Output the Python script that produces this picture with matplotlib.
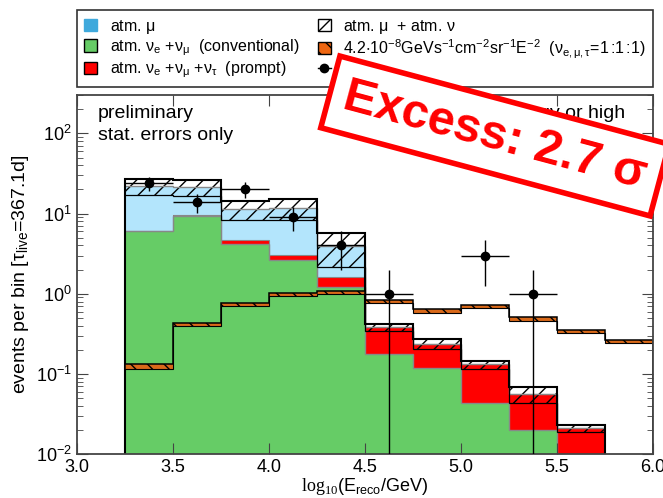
import matplotlib

matplotlib.use("Agg")

import matplotlib.pyplot as plt
import numpy as np
from matplotlib.lines import Line2D
from matplotlib.patches import Patch

plt.rcParams["font.family"] = ["Liberation Sans", "DejaVu Sans"]
plt.rcParams["mathtext.fontset"] = "custom"
plt.rcParams["mathtext.rm"] = "Liberation Sans"
plt.rcParams["mathtext.it"] = "Liberation Sans:italic"
plt.rcParams["mathtext.sf"] = "Liberation Sans"
plt.rcParams["mathtext.cal"] = "Liberation Serif"
plt.rcParams["mathtext.default"] = "regular"

# bin edges in log10(E_reco/GeV)
bg_edges = [3.25, 3.5, 3.75, 4.0, 4.25, 4.5, 4.75, 5.0, 5.25, 5.5, 5.75]
sig_edges = [3.25, 3.5, 3.75, 4.0, 4.25, 4.5, 4.75, 5.0, 5.25, 5.5, 5.75, 6.0]

# stacked background components (events per bin)
conventional = [6.0, 9.2, 4.15, 2.65, 1.2, 0.176, 0.12, 0.044, 0.02, 0.0]
prompt = [0.05, 0.3, 0.5, 0.42, 0.42, 0.205, 0.117, 0.088, 0.036, 0.021]
atm_muon = [15.9, 12.0, 6.8, 8.8, 2.36, 0.0, 0.0, 0.0, 0.0, 0.0]
bg_err = [4.7, 4.8, 3.05, 3.5, 1.8, 0.037, 0.035, 0.015, 0.013, 0.002]

# astrophysical E^-2 flux expectation and its band half-width
signal = [0.124, 0.415, 0.73, 0.97, 1.03, 0.80, 0.613, 0.695, 0.487, 0.338, 0.253]
signal_err = [0.009, 0.02, 0.03, 0.045, 0.045, 0.04, 0.03, 0.035, 0.025, 0.017, 0.013]

# observed events
data_x = [3.375, 3.625, 3.875, 4.125, 4.375, 4.625, 5.125, 5.375]
data_n = [24, 14, 20, 9, 4, 1, 3, 1]

FLOOR = 1e-5

conv = np.maximum(np.array(conventional), FLOOR)
top_prompt = conv + np.array(prompt)
total = top_prompt + np.array(atm_muon)
err = np.array(bg_err)
sig = np.array(signal)
sig_e = np.array(signal_err)

fig = plt.figure(figsize=(6.63, 4.98), dpi=100)
ax = fig.add_axes([0.116, 0.088, 0.869, 0.721])
ax.set_yscale("log")

ax.stairs(conv, bg_edges, baseline=FLOOR, fill=True, facecolor="#66cc66", edgecolor="none")
ax.stairs(top_prompt, bg_edges, baseline=conv, fill=True, facecolor="#ff0000", edgecolor="none")
ax.stairs(total, bg_edges, baseline=top_prompt, fill=True, facecolor="#b3e5fc", edgecolor="none")
ax.stairs(conv, bg_edges, baseline=None, color="#888888", lw=1)
ax.stairs(top_prompt, bg_edges, baseline=None, color="#888888", lw=0.8)

# background uncertainty band (hatched)
ax.stairs(total + err, bg_edges, baseline=total - err, fill=True,
          facecolor="none", edgecolor="black", hatch="//", linewidth=0)
ax.stairs(total, bg_edges, baseline=None, color="#888888", lw=1)
ax.stairs(total - err, bg_edges, baseline=None, color="black", lw=0.9)
ax.stairs(total + err, bg_edges, baseline=FLOOR, color="black", lw=1.5)

# astrophysical signal
ax.stairs(sig + sig_e, sig_edges, baseline=sig - sig_e, fill=True,
          facecolor="#d9691a", edgecolor="black", hatch="\\\\", linewidth=0)
ax.stairs(sig - sig_e, sig_edges, baseline=None, color="black", lw=0.8)
ax.stairs(sig + sig_e, sig_edges, baseline=FLOOR, color="black", lw=1.1)

# data
n = np.array(data_n, dtype=float)
yerr = np.sqrt(n)
ax.errorbar(data_x, n, xerr=0.125, yerr=[np.minimum(yerr, n - 1e-6), yerr],
            fmt="o", color="black", ms=6, elinewidth=1, capsize=0, zorder=5)

ax.set_xlim(3.0, 6.0)
ax.set_ylim(1e-2, 3e2)
ax.set_xticks([3.0, 3.5, 4.0, 4.5, 5.0, 5.5, 6.0])
ax.tick_params(which="both", direction="in", top=True, right=True, labelsize=13, color="#444444")
ax.tick_params(which="major", length=8)
ax.tick_params(which="minor", length=4)
for sp in ax.spines.values():
    sp.set_color("#444444")
    sp.set_linewidth(1.3)

ax.set_xlabel(r"$\mathcal{log}_{\mathcal{10}}$(E$_{\mathrm{reco}}$/GeV)", fontsize=13, labelpad=0)
ax.set_ylabel(r"events per bin [$\tau_{\mathrm{live}}$=367.1d]", fontsize=14)

ax.text(0.036, 0.936, "preliminary", transform=ax.transAxes, fontsize=14, va="baseline")
ax.text(0.036, 0.875, "stat. errors only", transform=ax.transAxes, fontsize=14, va="baseline")
ax.text(0.951, 0.936, "low energy or high", transform=ax.transAxes,
        fontsize=14, va="baseline", ha="right")

handles = [
    Patch(facecolor="#3fa9dc", edgecolor="#3fa9dc"),
    Patch(facecolor="#66cc66", edgecolor="black"),
    Patch(facecolor="#ff0000", edgecolor="black"),
    Patch(facecolor="white", edgecolor="black", hatch="//"),
    Patch(facecolor="#ee6611", edgecolor="black", hatch="\\\\"),
    Line2D([], [], color="black", marker="o", ms=6, lw=1),
]
labels = [
    r"atm. $\mu$",
    r"atm. $\nu_e$ +$\nu_\mu$  (conventional)",
    r"atm. $\nu_e$ +$\nu_\mu$ +$\nu_\tau$  (prompt)",
    r"atm. $\mu$  + atm. $\nu$",
    r"4.2$\cdot$10$^{-8}$GeVs$^{-1}$cm$^{-2}$sr$^{-1}$E$^{-2}$  ($\nu_{e,\mu,\tau}$=1$\,$:1$\,$:1)",
    "data",
]
leg = fig.legend(handles, labels, ncol=2, loc="upper left",
                 bbox_to_anchor=(0.116, 0.834, 0.869, 0.145), mode="expand",
                 fontsize=11.5, frameon=True, fancybox=False, edgecolor="black",
                 handlelength=0.8, handleheight=0.8, handletextpad=0.8,
                 borderaxespad=0, borderpad=0.45, labelspacing=0.1, columnspacing=1.0)
leg.get_frame().set_linewidth(1.2)

fig.text(495 / 663, 1 - 136 / 498, "Excess: 2.7 σ", color="#ff0000", fontsize=35,
         fontweight="bold", rotation=-15, rotation_mode="anchor", ha="center", va="center",
         zorder=10,
         bbox=dict(boxstyle="square,pad=0.3", facecolor="white", edgecolor="#ff0000", linewidth=4))

fig.savefig("out.png", dpi=100)
